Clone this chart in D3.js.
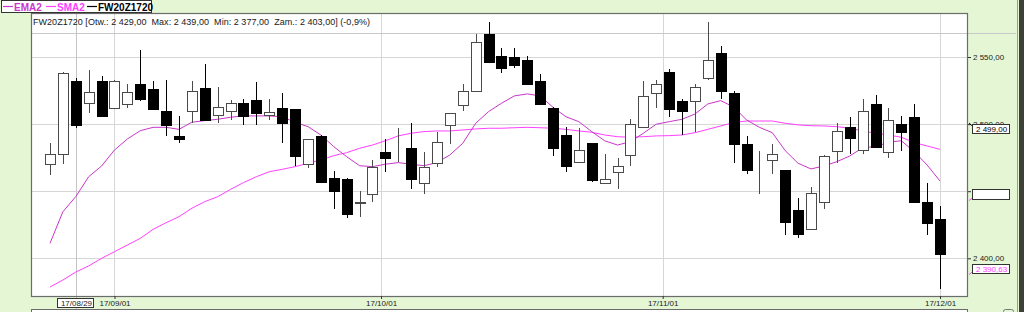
<!DOCTYPE html>
<html>
<head>
<meta charset="utf-8">
<script src="https://cdn.jsdelivr.net/npm/d3@7"></script>
<style>
    html, body { margin: 0; padding: 0; background: #e4f6d4; }
    svg { display: block; font-family: "Liberation Sans", Arial, sans-serif; }
</style>
</head>
<body>
<svg id="chart" width="1024" height="312"></svg>
<script>
// Session dates (FW20Z1720, daily)
const dates = [
    "17/08/25", "17/08/28", "17/08/29", "17/08/30", "17/08/31",
    "17/09/01", "17/09/04", "17/09/05", "17/09/06", "17/09/07", "17/09/08",
    "17/09/11", "17/09/12", "17/09/13", "17/09/14", "17/09/15",
    "17/09/18", "17/09/19", "17/09/20", "17/09/21", "17/09/22",
    "17/09/25", "17/09/26", "17/09/27", "17/09/28", "17/09/29",
    "17/10/02", "17/10/03", "17/10/04", "17/10/05", "17/10/06",
    "17/10/09", "17/10/10", "17/10/11", "17/10/12", "17/10/13",
    "17/10/16", "17/10/17", "17/10/18", "17/10/19", "17/10/20",
    "17/10/23", "17/10/24", "17/10/25", "17/10/26", "17/10/27",
    "17/10/30", "17/10/31",
    "17/11/02", "17/11/03", "17/11/06", "17/11/07", "17/11/08", "17/11/09", "17/11/10",
    "17/11/13", "17/11/14", "17/11/15", "17/11/16", "17/11/17",
    "17/11/20", "17/11/21", "17/11/22", "17/11/23", "17/11/24",
    "17/11/27", "17/11/28", "17/11/29", "17/11/30",
    "17/12/01"
];

const open = [
    2470, 2478, 2532, 2516, 2532, 2512, 2515, 2530, 2526, 2510,
    2491, 2510, 2527, 2507, 2510, 2516, 2518, 2507, 2512, 2511,
    2470, 2491, 2460, 2459, 2441, 2448, 2479, 2481, 2482, 2456,
    2471, 2499, 2514, 2525, 2567, 2551, 2550, 2548, 2532, 2512,
    2492, 2472, 2486, 2456, 2464, 2477, 2498, 2523, 2539, 2517,
    2517, 2534, 2553, 2523, 2485, 2471, 2473, 2466, 2436, 2422,
    2442, 2480, 2498, 2481, 2515, 2479, 2500, 2505, 2442, 2429
];
const high = [
    2486, 2539, 2534, 2540, 2536, 2533, 2530, 2555, 2532, 2533,
    2506, 2532, 2545, 2528, 2518, 2519, 2531, 2519, 2523, 2511,
    2489, 2492, 2465, 2460, 2450, 2473, 2489, 2497, 2501, 2479,
    2494, 2508, 2530, 2567, 2576, 2557, 2557, 2551, 2537, 2513,
    2498, 2497, 2486, 2478, 2475, 2504, 2532, 2533, 2541, 2519,
    2530, 2576, 2558, 2525, 2491, 2480, 2485, 2466, 2445, 2453,
    2477, 2501, 2505, 2519, 2522, 2512, 2506, 2515, 2456, 2439
];
const low = [
    2462, 2470, 2497, 2508, 2506, 2511, 2512, 2517, 2511, 2491,
    2486, 2501, 2502, 2501, 2503, 2499, 2499, 2503, 2486, 2469,
    2467, 2456, 2437, 2430, 2431, 2442, 2464, 2472, 2452, 2448,
    2468, 2485, 2510, 2525, 2546, 2538, 2542, 2530, 2515, 2476,
    2464, 2471, 2457, 2455, 2452, 2469, 2497, 2512, 2505, 2492,
    2494, 2533, 2519, 2471, 2463, 2448, 2463, 2417, 2415, 2421,
    2437, 2471, 2478, 2478, 2483, 2475, 2480, 2441, 2417, 2377
];
const close = [
    2478, 2538, 2499, 2524, 2506, 2532, 2524, 2519, 2511, 2499,
    2489, 2525, 2503, 2513, 2516, 2506, 2508, 2509, 2501, 2476,
    2489, 2457, 2450, 2433, 2442, 2468, 2475, 2481, 2459, 2468,
    2487, 2508, 2525, 2561, 2546, 2542, 2544, 2530, 2515, 2482,
    2469, 2481, 2458, 2459, 2469, 2500, 2521, 2530, 2511, 2510,
    2528, 2548, 2525, 2485, 2466, 2471, 2478, 2427, 2418, 2449,
    2476, 2495, 2490, 2510, 2483, 2503, 2494, 2442, 2426, 2403
];

// Indicator lines as drawn on the chart
const ema2 = [
    2411.2, 2434.7, 2446.0, 2460.8, 2468.8, 2480.7, 2488.9, 2495.1, 2497.6, 2497.6,
    2496.1, 2501.4, 2502.6, 2503.6, 2505.1, 2506.1, 2506.1, 2506.1, 2505.5, 2501.4,
    2498.1, 2491.9, 2483.2, 2475.7, 2469.0, 2468.3, 2470.1, 2471.3, 2470.1, 2469.0,
    2471.3, 2477.0, 2485.7, 2500.6, 2509.3, 2515.5, 2521.0, 2522.5, 2521.0, 2512.5,
    2505.5, 2501.8, 2494.4, 2487.6, 2484.4, 2486.9, 2493.2, 2499.9, 2501.8, 2503.6,
    2507.5, 2515.0, 2517.5, 2512.8, 2503.1, 2497.6, 2493.6, 2480.2, 2470.8, 2466.6,
    2468.8, 2472.0, 2476.2, 2482.4, 2483.2, 2486.5, 2487.6, 2479.5, 2469.5, 2457.6
];
const sma2 = [
    2378.6, 2383.8, 2389.8, 2394.3, 2400.0, 2404.9, 2409.9, 2414.9, 2421.6, 2426.5,
    2431.0, 2437.3, 2442.2, 2445.9, 2451.4, 2456.4, 2460.8, 2464.5, 2466.3, 2468.3,
    2470.8, 2473.3, 2476.5, 2478.7, 2482.0, 2484.4, 2487.6, 2491.2, 2493.2, 2494.4,
    2494.9, 2494.9, 2495.6, 2496.4, 2496.9, 2496.9, 2497.3, 2497.6, 2497.3, 2496.9,
    2496.1, 2494.9, 2493.9, 2491.9, 2490.6, 2490.2, 2490.6, 2491.2, 2491.4, 2491.9,
    2493.6, 2496.1, 2498.6, 2501.2, 2502.3, 2502.3, 2502.3, 2500.6, 2499.4, 2498.8,
    2498.6, 2498.1, 2496.9, 2494.9, 2493.2, 2491.9, 2490.2, 2486.2, 2483.7, 2481.2
];

const priceTicks = [2400, 2450, 2500, 2550];
const dateTicks = ["17/09/01", "17/10/01", "17/11/01", "17/12/01"];
const cursorDate = "17/08/29";
const headerText = "FW20Z1720 [Otw.: 2 429,00  Max: 2 439,00  Min: 2 377,00  Zam.: 2 403,00] (-0,9%)";
const markerLabels = ["2 499,00", "", "2 390,63"];
const legendNames = ["EMA2", "SMA2", "FW20Z1720"];

const EMA_COLOR = "#c936c9";
const SMA_COLOR = "#ff40ff";

const parseDate = d3.timeParse("%y/%m/%d");
const fmtDate = d3.timeFormat("%y/%m/%d");
const fmtPrice = d3.formatLocale({ decimal: ",", thousands: " ", grouping: [3], currency: ["", ""] }).format(",.2f");

const bars = dates.map((d, i) => ({
    date: parseDate(d),
    o: open[i], h: high[i], l: low[i], c: close[i],
    ema: ema2[i], sma: sma2[i]
}));

// Plot frame
const frame = { left: 31, right: 968, top: 13, bottom: 296 };

const svg = d3.select("#chart");

// x: one slot per session, calendar dates in between are interpolated
const slotX = d3.scaleLinear().domain([0, bars.length - 1]).range([50, 940]);
const x = d3.scaleTime()
    .domain(bars.map(b => b.date))
    .range(bars.map((b, i) => slotX(i)));

const y = d3.scaleLinear().domain([2400, 2550]).range([258.3, 57]);

// Background
svg.append("rect").attr("width", 1024).attr("height", 312).attr("fill", "#e4f6d4");
svg.append("rect").attr("x", 1019).attr("width", 5).attr("height", 312).attr("fill", "#3d4036");
svg.append("line").attr("x1", 1017.5).attr("x2", 1017.5).attr("y1", 0).attr("y2", 312)
    .attr("stroke", "#9a9a9a");

// Plot area
svg.append("rect")
    .attr("x", frame.left).attr("y", frame.top)
    .attr("width", frame.right - frame.left).attr("height", frame.bottom - frame.top)
    .attr("fill", "#fff");

const grid = svg.append("g").attr("shape-rendering", "crispEdges");

grid.selectAll("line.h")
    .data(priceTicks)
    .enter().append("line")
    .attr("class", "h")
    .attr("x1", frame.left).attr("x2", frame.right)
    .attr("y1", d => Math.round(y(d)) + 0.5).attr("y2", d => Math.round(y(d)) + 0.5)
    .attr("stroke", "#d6d6d6");

grid.selectAll("line.v")
    .data(dateTicks)
    .enter().append("line")
    .attr("class", "v")
    .attr("x1", d => Math.round(x(parseDate(d))) + 0.5).attr("x2", d => Math.round(x(parseDate(d))) + 0.5)
    .attr("y1", frame.top).attr("y2", frame.bottom)
    .attr("stroke", "#d6d6d6");

// line under the header, runs out into the axis panel
grid.append("line")
    .attr("x1", frame.left).attr("x2", 1016)
    .attr("y1", 33.5).attr("y2", 33.5)
    .attr("stroke", "#c8c8c8");

// cursor line
const cx = Math.round(x(parseDate(cursorDate))) + 0.5;
grid.append("line")
    .attr("x1", cx).attr("x2", cx)
    .attr("y1", frame.top).attr("y2", 312)
    .attr("stroke", "#c4c4c4");

// Header text (stretched to the width it takes in the original)
svg.append("text")
    .attr("x", 33).attr("y", 25)
    .attr("font-size", "9px").attr("fill", "#202020")
    .attr("textLength", 337).attr("lengthAdjust", "spacing")
    .style("white-space", "pre")
    .text(headerText);

// Indicator lines
const lineOf = key => d3.line().x(d => x(d.date)).y(d => y(d[key]));

svg.append("path").datum(bars)
    .attr("d", lineOf("sma"))
    .attr("fill", "none").attr("stroke", SMA_COLOR).attr("stroke-width", 1);

svg.append("path").datum(bars)
    .attr("d", lineOf("ema"))
    .attr("fill", "none").attr("stroke", EMA_COLOR).attr("stroke-width", 1);

// Candles
const bodyW = 10;
const candles = svg.append("g").attr("shape-rendering", "crispEdges")
    .selectAll("g")
    .data(bars)
    .enter().append("g");

candles.append("line")
    .attr("x1", d => Math.round(x(d.date)) + 0.5)
    .attr("x2", d => Math.round(x(d.date)) + 0.5)
    .attr("y1", d => y(d.h))
    .attr("y2", d => y(d.l))
    .attr("stroke", d => d.c >= d.o ? "#4a4a4a" : "#000");

candles.append("rect")
    .attr("x", d => Math.round(x(d.date)) - bodyW / 2 + 0.5)
    .attr("y", d => Math.round(y(Math.max(d.o, d.c))) + 0.5)
    .attr("width", bodyW)
    .attr("height", d => Math.max(0, Math.round(y(Math.min(d.o, d.c))) - Math.round(y(Math.max(d.o, d.c)))))
    .attr("fill", d => d.c > d.o ? "#fff" : "#000")
    .attr("stroke", d => d.c > d.o ? "#4a4a4a" : "#000");

// Frame border
svg.append("rect")
    .attr("x", frame.left + 0.5).attr("y", frame.top + 0.5)
    .attr("width", frame.right - frame.left - 1).attr("height", frame.bottom - frame.top)
    .attr("fill", "none").attr("stroke", "#6c6c6c").attr("stroke-width", 1.2);

// Price axis
const yAxis = svg.append("g")
    .attr("transform", `translate(${frame.right},0)`)
    .call(d3.axisRight(y).tickValues(priceTicks).tickSize(3).tickPadding(2).tickFormat(fmtPrice));
yAxis.select(".domain").remove();
yAxis.selectAll("line").attr("stroke", "#333");
yAxis.selectAll("text")
    .attr("font-family", "Liberation Sans, Arial, sans-serif")
    .attr("font-size", "8px").attr("fill", "#222");

// Value markers on the price axis (drawn over the tick labels, as in the original)
const markers = [
    { y: 124.5, h: 9, label: markerLabels[0], color: "#000", link: "#000" },
    { y: 189.5, h: 10, label: markerLabels[1], color: "#000", link: SMA_COLOR },
    { y: 264.5, h: 9, label: markerLabels[2], color: SMA_COLOR, link: SMA_COLOR }
];
const mk = svg.append("g").selectAll("g").data(markers).enter().append("g");
mk.append("line")
    .attr("x1", frame.right + 1).attr("x2", 973)
    .attr("y1", (d, i) => i === 0 ? d.y - 1.5 : d.y + d.h + 1)
    .attr("y2", (d, i) => i === 0 ? d.y + 2 : d.y + d.h - 2)
    .attr("stroke", d => d.link);
mk.append("rect")
    .attr("x", 972.5).attr("y", d => d.y)
    .attr("width", 37).attr("height", d => d.h)
    .attr("fill", "#fff").attr("stroke", "#333");
mk.append("text")
    .attr("x", 976).attr("y", d => d.y + d.h - 1.5)
    .attr("font-size", "8px").attr("fill", d => d.color)
    .text(d => d.label);

// Date axis
const xAxis = svg.append("g")
    .attr("transform", `translate(0,${frame.bottom})`)
    .call(d3.axisBottom(x).tickValues(dateTicks.map(parseDate)).tickSize(3).tickPadding(1).tickFormat(fmtDate));
xAxis.select(".domain").remove();
xAxis.selectAll("line").attr("stroke", "#333");
xAxis.selectAll("text")
    .attr("font-family", "Liberation Sans, Arial, sans-serif")
    .attr("font-size", "8px").attr("fill", "#222");

// Cursor date box
svg.append("rect")
    .attr("x", 57.5).attr("y", 298.5).attr("width", 36).attr("height", 9)
    .attr("fill", "#fff").attr("stroke", "#333");
svg.append("text")
    .attr("x", cx).attr("y", 306).attr("text-anchor", "middle")
    .attr("font-size", "8px").attr("fill", "#222")
    .text(cursorDate);

// Next panel peeking in at the bottom
svg.append("rect")
    .attr("x", frame.left + 0.5).attr("y", 309.5)
    .attr("width", frame.right - frame.left - 1).attr("height", 10)
    .attr("fill", "#fff").attr("stroke", "#6c6c6c");
svg.append("rect")
    .attr("x", 1003.5).attr("y", 309.5).attr("width", 10).attr("height", 10).attr("rx", 2)
    .attr("fill", "none").attr("stroke", "#777");

// Legend: short dash then series name
const legend = svg.append("g");
legend.append("rect")
    .attr("x", 1.5).attr("y", 0.5).attr("width", 150).attr("height", 12)
    .attr("fill", "#fff").attr("stroke", "#333");
const legendItems = [
    { x: 3, name: legendNames[0], color: EMA_COLOR },
    { x: 46, name: legendNames[1], color: SMA_COLOR },
    { x: 87, name: legendNames[2], color: "#000" }
];
const li = legend.selectAll("g.item")
    .data(legendItems)
    .enter().append("g")
    .attr("class", "item");
li.append("line")
    .attr("x1", d => d.x).attr("x2", d => d.x + 10)
    .attr("y1", 6.5).attr("y2", 6.5)
    .attr("stroke", d => d.color).attr("stroke-width", 1.2);
li.append("text")
    .attr("x", d => d.x + 11).attr("y", 10.5)
    .attr("font-size", "10px").attr("font-weight", "bold")
    .attr("fill", d => d.color)
    .text(d => d.name);
</script>
</body>
</html>
